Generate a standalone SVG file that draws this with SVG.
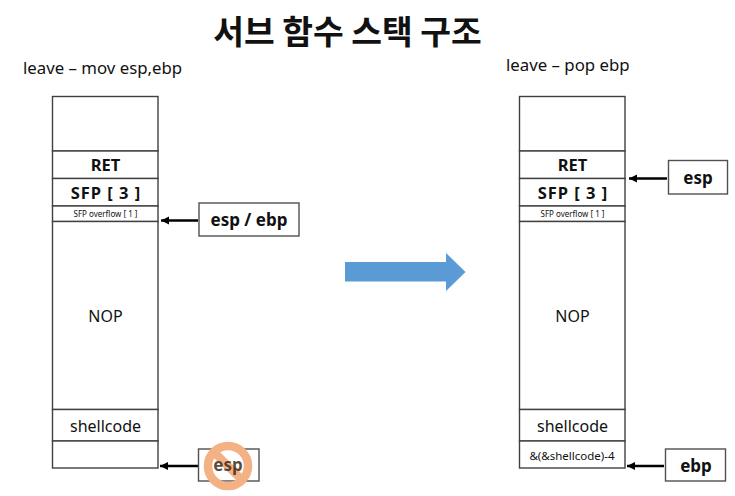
<svg xmlns="http://www.w3.org/2000/svg" width="735" height="496" viewBox="0 0 735 496">
<style>
text{font-family:"Noto Sans","Open Sans","Noto Sans CJK KR",sans-serif;fill:#111;text-anchor:middle}
.cell{fill:#fff;stroke:#404040;stroke-width:1.4}
.box{fill:#fff;stroke:#505050;stroke-width:1.4}
.b{font-weight:700;font-size:16.500px}
.l{font-weight:700;font-size:17px}
.n{font-size:16px}
.s{font-size:8px}
.h{font-size:16.800px;text-anchor:start}
.c{stroke:#000;stroke-width:2.4;fill:none;marker-end:url(#a)}
</style>
<defs>
<marker id="a" markerUnits="userSpaceOnUse" markerWidth="9" markerHeight="10" refX="8" refY="4" orient="auto"><path d="M0 0L8 4L0 8Z" fill="#000"/></marker>
</defs>
<rect width="735" height="496" fill="#fff"/>
<text id="title" x="347.500" y="44" style="font-family:'Noto Sans CJK KR',sans-serif;font-weight:700;font-size:33.400px">서브 함수 스택 구조</text>
<text class="h" x="23" y="74">leave – mov esp,ebp</text>
<text class="h" x="506" y="71">leave – pop ebp</text>
<g id="left-stack">
<rect class="cell" x="52.5" y="96.5" width="105.500" height="54.500"/>
<rect class="cell" x="52.5" y="151" width="105.500" height="27.500"/>
<rect class="cell" x="52.5" y="178.500" width="105.500" height="27.500"/>
<rect class="cell" x="52.5" y="206" width="105.500" height="15.500"/>
<rect class="cell" x="52.5" y="221.500" width="105.500" height="188"/>
<rect class="cell" x="52.5" y="409.500" width="105.500" height="31.500"/>
<rect class="cell" x="52.5" y="441" width="105.500" height="27"/>
<text class="b" x="105.500" y="171">RET</text>
<text class="b" x="106" y="199" style="letter-spacing:1px">SFP [ 3 ]</text>
<text class="s" x="105.500" y="217">SFP overflow [ 1 ]</text>
<text class="n" x="105.500" y="322">NOP</text>
<text class="n" x="105.500" y="432">shellcode</text>
</g>
<g id="right-stack">
<rect class="cell" x="519.5" y="96.5" width="105.500" height="54.500"/>
<rect class="cell" x="519.5" y="151" width="105.500" height="27.500"/>
<rect class="cell" x="519.5" y="178.500" width="105.500" height="27.500"/>
<rect class="cell" x="519.5" y="206" width="105.500" height="15.500"/>
<rect class="cell" x="519.5" y="221.500" width="105.500" height="188"/>
<rect class="cell" x="519.5" y="409.500" width="105.500" height="31.500"/>
<rect class="cell" x="519.5" y="441" width="105.500" height="27"/>
<text class="b" x="572.500" y="171">RET</text>
<text class="b" x="573" y="199" style="letter-spacing:1px">SFP [ 3 ]</text>
<text class="s" x="572.500" y="217">SFP overflow [ 1 ]</text>
<text class="n" x="572.500" y="322">NOP</text>
<text class="n" x="572.500" y="432">shellcode</text>
<text x="572" y="460" style="font-size:11.500px">&amp;(&amp;shellcode)-4</text>
</g>
<g id="connectors">
<line class="c" x1="198" y1="220.500" x2="161" y2="220.500"/>
<line class="c" x1="198" y1="466" x2="160" y2="466"/>
<line class="c" x1="667" y1="178.500" x2="629" y2="178.500"/>
<line class="c" x1="664" y1="466" x2="627" y2="466"/>
</g>
<g id="esp-ebp"><rect class="box" x="199" y="203" width="100" height="33"/><text class="l" x="249" y="226">esp / ebp</text></g>
<g id="esp-left"><rect class="box" x="198.500" y="449" width="60.500" height="32"/>
<g id="no-symbol" fill="none" stroke="#f4b183" stroke-width="8.500">
<circle cx="228" cy="466" r="20"/>
<line x1="214" y1="452" x2="242" y2="480"/>
</g>
<text class="l" x="228" y="471" fill-opacity=".85" style="fill:#3a2a20">esp</text></g>
<g id="esp-right"><rect class="box" x="668.500" y="160.500" width="59" height="33.500"/><text class="l" x="698" y="184">esp</text></g>
<g id="ebp-right"><rect class="box" x="665.500" y="449" width="60" height="32"/><text class="l" x="696" y="472">ebp</text></g>
<path id="big-arrow" d="M345 262H446V253L465.500 272L446 291V281.500H345Z" fill="#5b9bd5"/>
</svg>
